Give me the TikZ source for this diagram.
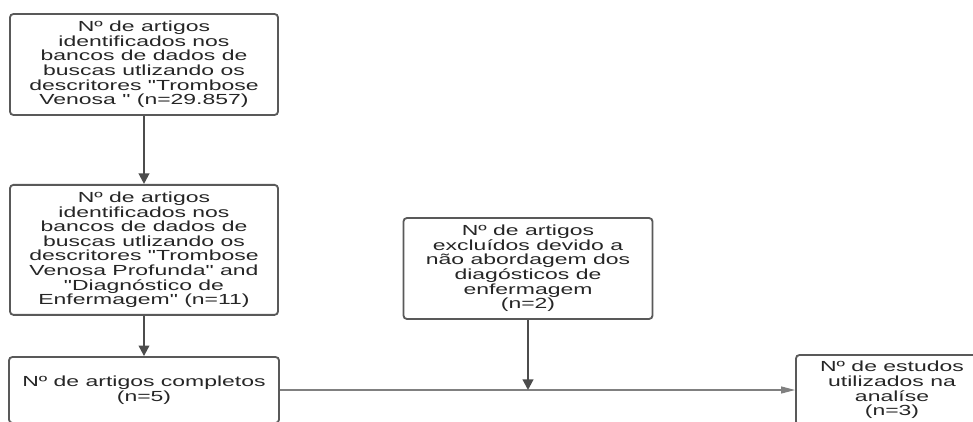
\documentclass[tikz,border=0pt]{standalone}
\usepackage{fontspec}
\setmainfont[FakeStretch=1.57,Ligatures=TeXOff]{Liberation Sans}
\usetikzlibrary{arrows.meta, positioning}
\tikzset{box/.style={rectangle,draw=black!65,line width=1.3pt,rounded corners=2.5pt,align=center,inner sep=0pt,text=black!85,font=\fontsize{10.4}{10.4}\selectfont},
         arrow/.style={draw=black!70,line width=1.5pt,-{Triangle[length=7.5pt,width=7.5pt]}},
         thinarrow/.style={draw=black!50,line width=0.8pt,-{Triangle[length=10pt,width=5pt]}}}

\begin{document}
\begin{tikzpicture}[x=0.025cm,y=0.025cm]
    \clip (0,0) rectangle (973,-421);
    \fill[white] (0,0) rectangle (973,-421);
    \node (search) [box, minimum width=6.7cm, minimum height=2.525cm] at (144,-64.5) {Nº de artigos\\identificados nos\\bancos de dados de\\buscas utlizando os\\descritores "Trombose\\Venosa " (n=29.857)};
    \node (refined) [box, below=1.7cm of search, minimum width=6.7cm, minimum height=3.25cm] {Nº de artigos\\identificados nos\\bancos de dados de\\buscas utlizando os\\descritores "Trombose\\Venosa Profunda" and\\"Diagnóstico de\\Enfermagem" (n=11)};
    \node (full) [box, minimum width=6.75cm, minimum height=1.65cm] at (144,-390) {Nº de artigos completos\\(n=5)};
    \node (excluded) [box, minimum width=6.225cm, minimum height=2.525cm] at (528,-268.5) {Nº de artigos\\excluídos devido a\\não abordagem dos\\diagósticos de\\enfermagem\\(n=2)};
    \node (used) [box, minimum width=4.8cm, minimum height=1.75cm] at (892,-390) {Nº de estudos\\utilizados na\\analíse\\(n=3)};
    % Vertical chain on the left
    \draw[arrow] (search.south) -- (refined.north);
    \draw[arrow] (refined.south) -- (full.north);
    % Exclusions drop onto the main line
    \coordinate (join) at (excluded.south |- full.east);
    \draw[thinarrow] (full.east) -- (used.west);
    \draw[arrow] (excluded.south) -- (join);
\end{tikzpicture}
\end{document}
